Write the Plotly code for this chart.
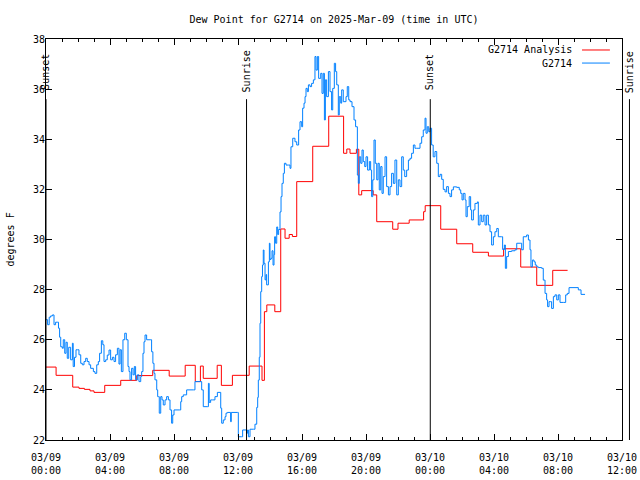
import pandas as pd
import plotly.graph_objects as go

START = pd.Timestamp("2025-03-09 00:00")
END = pd.Timestamp("2025-03-10 12:00")

# Analysis (hourly-ish steps): hours after 03/09 00:00 UTC, dew point F
analysis_hours = [0.0, 0.63, 1.67, 2.06, 2.4, 2.75, 3.0, 3.67, 4.67, 5.67, 6.67, 7.7, 8.7,
                  9.33, 9.65, 9.83, 10.7, 10.96, 11.65, 12.7, 13.5, 13.65, 13.8, 14.3, 14.67,
                  14.94, 15.2, 15.4, 15.67, 16.67, 17.67, 18.6, 18.8, 19.0, 19.4, 19.55, 19.73,
                  20.45, 20.67, 21.67, 22.0, 22.7, 23.6, 23.7, 24.67, 25.67, 26.67, 27.65,
                  28.6, 29.67, 30.67, 31.67, 32.6]
analysis_vals = [24.91, 24.58, 24.11, 24.06, 24.02, 23.96, 23.9, 24.18, 24.38, 24.57, 24.78, 24.55, 24.98,
                 24.33, 24.95, 24.46, 24.98, 24.18, 24.58, 24.95, 24.38, 27.12, 27.39, 27.12, 30.42,
                 30.05, 30.2, 30.12, 32.31, 33.72, 34.92, 33.44, 33.61, 33.44, 33.6, 31.78, 31.95,
                 31.78, 30.71, 30.41, 30.65, 30.78, 31.11, 31.35, 30.41, 29.83, 29.49, 29.34,
                 29.63, 28.9, 28.17, 28.77, 28.77]

# Station observations
obs_hours = [0.0, 0.1, 0.2, 0.29, 0.4, 0.5, 0.6, 0.71, 0.78, 0.85, 0.92, 1.02, 1.08, 1.17, 1.25,
             1.33, 1.42, 1.54, 1.65, 1.7, 1.78, 1.875, 1.96, 2.06, 2.17, 2.27, 2.375, 2.48, 2.58,
             2.69, 2.79, 2.96, 3.06, 3.17, 3.27, 3.35, 3.46, 3.55, 3.625, 3.73, 3.83, 3.94, 4.04,
             4.15, 4.25, 4.35, 4.46, 4.56, 4.63, 4.71, 4.81, 4.92, 5.02, 5.125, 5.19, 5.25, 5.35,
             5.44, 5.52, 5.6, 5.71, 5.81, 5.92, 5.98, 6.06, 6.125, 6.19, 6.29, 6.44, 6.55, 6.6,
             6.68, 6.75, 6.81, 6.92, 6.98, 7.04, 7.08, 7.17, 7.25, 7.33, 7.44, 7.54, 7.65, 7.75,
             7.85, 7.92, 8.0, 8.33, 8.42, 8.48, 8.58, 8.79, 9.21, 9.31, 9.625, 9.73, 9.83, 10.08,
             10.15, 10.2, 10.29, 10.42, 10.56, 10.71, 10.875, 10.92, 10.98, 11.08, 11.19, 11.25,
             11.33, 11.5, 11.54, 11.58, 11.96, 12.02, 12.23, 12.29, 12.44, 12.54, 12.6, 12.65,
             12.75, 12.96, 13.06, 13.17, 13.23, 13.27, 13.33, 13.375, 13.42, 13.48, 13.53, 13.58,
             13.625, 13.69, 13.75, 13.79, 13.9, 13.96, 14.0, 14.06, 14.125, 14.19, 14.25, 14.29,
             14.35, 14.42, 14.48, 14.54, 14.625, 14.69, 14.75, 14.83, 14.9, 15.0, 15.15, 15.25,
             15.31, 15.42, 15.56, 15.67, 15.79, 15.875, 15.98, 16.04, 16.125, 16.19, 16.25, 16.33,
             16.4, 16.5, 16.6, 16.71, 16.81, 16.875, 16.96, 17.04, 17.17, 17.25, 17.33, 17.4,
             17.46, 17.54, 17.65, 17.75, 17.85, 17.92, 18.02, 18.1, 18.17, 18.27, 18.33, 18.42,
             18.48, 18.58, 18.75, 18.83, 18.92, 19.0, 19.125, 19.25, 19.35, 19.46, 19.52, 19.58,
             19.67, 19.75, 19.83, 19.92, 20.0, 20.1, 20.21, 20.29, 20.35, 20.42, 20.5, 20.58,
             20.67, 20.75, 20.83, 20.92, 21.0, 21.08, 21.19, 21.29, 21.4, 21.5, 21.6, 21.71,
             21.81, 21.92, 22.02, 22.125, 22.23, 22.33, 22.42, 22.54, 22.65, 22.75, 22.85, 22.96,
             23.06, 23.17, 23.375, 23.48, 23.58, 23.69, 23.75, 23.83, 23.92, 24.0, 24.1, 24.2,
             24.31, 24.42, 24.52, 24.625, 24.73, 24.83, 24.94, 25.04, 25.15, 25.25, 25.35, 25.46,
             25.67, 25.83, 25.92, 26.0, 26.08, 26.19, 26.25, 26.33, 26.45, 26.54, 26.6, 26.71,
             26.81, 26.96, 27.02, 27.125, 27.23, 27.33, 27.44, 27.54, 27.65, 27.75, 27.85, 27.96,
             28.06, 28.17, 28.27, 28.48, 28.54, 28.65, 28.71, 28.79, 28.9, 29.1, 29.31, 29.42,
             29.67, 29.73, 29.83, 30.04, 30.15, 30.25, 30.31, 30.4, 30.5, 30.58, 30.67, 30.77,
             30.98, 31.08, 31.19, 31.29, 31.35, 31.44, 31.52, 31.6, 31.71, 31.81, 31.92, 32.02,
             32.125, 32.33, 32.48, 32.58, 32.69, 33.125, 33.27, 33.44, 33.69]
obs_vals = [26.8, 26.6, 26.9, 26.95, 26.99, 26.6, 26.7, 26.7, 26.46, 26.1, 25.72, 25.66, 26.0, 25.46, 25.9,
            25.26, 25.7, 25.2, 25.86, 24.93, 25.3, 25.6, 25.6, 25.4, 25.06, 25.0, 25.13, 25.26, 25.13,
            25.0, 24.86, 24.73, 24.66, 25.0, 25.13, 25.46, 25.96, 25.8, 25.13, 25.2, 25.39, 25.59, 25.2,
            25.3, 25.13, 25.4, 25.66, 25.03, 25.6, 24.73, 26.0, 26.26, 26.0, 24.93, 24.73, 24.4, 24.86,
            24.6, 24.93, 24.4, 24.6, 24.33, 24.53, 24.73, 25.46, 25.92, 26.19, 26.0, 26.0, 26.0, 25.52,
            25.06, 24.66, 24.4, 24.0, 23.73, 23.73, 23.07, 23.73, 23.6, 23.4, 23.6, 23.73, 23.6, 23.2,
            22.67, 23.0, 23.2, 23.2, 23.53, 23.73, 23.8, 24.0, 24.0, 24.33, 24.33, 24.0, 23.33, 23.33,
            24.26, 23.5, 23.6, 23.6, 23.73, 23.9, 23.9, 23.27, 22.67, 22.8, 22.93, 23.07,
            23.1, 23.1, 22.73, 23.1, 23.1, 22.13, 22.13, 22.4, 22.4, 22.27, 22.4, 22.13,
            22.43, 22.43, 22.63, 23.3, 23.7, 24.39, 25.3, 26.66, 27.92, 28.52, 28.98, 29.58,
            29.05, 28.39, 28.6, 28.19, 29.11, 29.85, 29.2, 29.25, 29.55, 28.98, 29.4, 30.11,
            29.85, 30.5, 30.2, 30.4, 31.1, 31.71, 32.24, 32.64, 33.04, 32.97, 32.97, 32.84,
            33.7, 34.04, 33.9, 33.77, 34.37, 34.7, 34.5, 35.24, 35.44, 35.7, 36.03, 35.9,
            36.17, 36.1, 36.23, 36.37, 37.3, 36.76, 37.3, 36.43, 36.63, 35.83, 36.63, 34.77,
            36.37, 35.7, 36.7, 35.9, 35.17, 36.03, 37.03, 36.7, 36.17, 34.97, 35.7, 35.44,
            35.97, 35.5, 35.7, 36.1, 35.57, 35.5, 35.3, 34.77, 34.5, 32.57, 32.24, 33.3,
            33.04, 33.57, 33.11, 32.91, 33.3, 32.77, 33.11, 32.77, 31.71, 32.38, 33.97, 33.04,
            32.38, 33.04, 31.98, 32.91, 31.84, 32.51, 33.3, 32.11, 31.78, 32.11, 32.64, 32.24,
            33.17, 31.78, 32.38, 32.11, 33.3, 32.77, 32.51, 32.77, 33.17, 33.24, 33.44, 33.77,
            33.64, 33.64, 33.84, 34.1, 34.37, 34.84, 34.24, 34.5, 34.3, 34.44, 33.77, 33.3,
            33.51, 33.04, 32.51, 32.6, 32.4, 32.0, 31.9, 32.11, 31.84, 31.71, 31.98, 32.1,
            32.08, 31.98, 31.84, 31.58, 31.84, 31.58, 30.91, 31.31, 31.71, 31.18, 30.78, 31.18,
            31.44, 31.5, 30.58, 30.97, 30.71, 30.97, 30.58, 30.97, 30.58, 30.31, 29.78, 30.11,
            30.31, 30.44, 30.11, 30.11, 29.6, 29.78, 28.85, 29.32, 29.52, 29.55, 29.59, 29.85,
            29.85, 29.59, 30.11, 30.18, 29.98, 29.59, 28.91, 29.18, 29.11, 28.98, 28.91, 28.88,
            28.85, 28.38, 27.85, 27.59, 27.32, 27.52, 27.52, 27.25, 27.72, 27.79, 27.59, 27.79,
            27.49, 27.49, 27.79, 27.85, 28.08, 28.08, 27.99, 27.81, 27.81]

# Sun events (UTC)
event_labels = ["Sunset", "Sunrise", "Sunset", "Sunrise"]
event_times = ["2025-03-09 00:00", "2025-03-09 12:32", "2025-03-10 00:01", "2025-03-10 12:28"]

x_tickvals = pd.date_range(START, END, freq="4h")
x_ticktext = [f"{t:%m/%d}<br>{t:%H:%M}" for t in x_tickvals]

FONT = "DejaVu Sans Mono"
RED = "#ff0000"
BLUE = "#0080ff"

t_an = START + pd.to_timedelta(analysis_hours, unit="h")
t_obs = START + pd.to_timedelta(obs_hours, unit="h")

fig = go.Figure()
fig.add_trace(go.Scatter(x=t_an, y=analysis_vals, mode="lines", line=dict(color=RED, width=1, shape="hv"),
                         name="G2714 Analysis", showlegend=False))
fig.add_trace(go.Scatter(x=t_obs, y=obs_vals, mode="lines", line=dict(color=BLUE, width=1, shape="hv"),
                         name="G2714", showlegend=False))

span = (END - START).total_seconds()
shapes = []
annotations = []
for lab, t in zip(event_labels, event_times):
    fx = (pd.Timestamp(t) - START).total_seconds() / span
    shapes.append(dict(type="line", xref="paper", yref="paper", x0=fx, x1=fx, y0=0, y1=0.85,
                       line=dict(color="black", width=1)))
    annotations.append(dict(text=lab, xref="paper", yref="paper", x=fx, y=0.918, textangle=-90,
                            showarrow=False, xanchor="center", yanchor="middle",
                            font=dict(family=FONT, size=10, color="black")))

# custom legend (sample line to the right of the label)
legend_items = [("G2714 Analysis", RED, 0.9726), ("G2714", BLUE, 0.940)]
for name, col, yy in legend_items:
    annotations.append(dict(text=name, xref="paper", yref="paper", x=0.9167, y=yy, xanchor="right",
                            yanchor="middle", showarrow=False, font=dict(family=FONT, size=10, color="black")))
    shapes.append(dict(type="line", xref="paper", yref="paper", x0=0.9306, x1=0.979, y0=yy, y1=yy,
                       line=dict(color=col, width=1)))

annotations.append(dict(text="degrees F", xref="paper", yref="paper", x=-0.0625, y=0.5, textangle=-90,
                        showarrow=False, xanchor="center", yanchor="middle",
                        font=dict(family=FONT, size=10, color="black")))

fig.update_layout(
    width=640, height=480,
    margin=dict(l=46, r=18, t=39, b=40, autoexpand=False),
    paper_bgcolor="white", plot_bgcolor="white",
    font=dict(family=FONT, size=10, color="black"),
    title=dict(text="Dew Point for G2714 on 2025-Mar-09 (time in UTC)", x=0.5, xref="paper",
               y=1 - 19 / 480, yref="container", xanchor="center", yanchor="middle",
               font=dict(family=FONT, size=10, color="black")),
    shapes=shapes, annotations=annotations, showlegend=False,
)
fig.update_xaxes(range=[START, END], tickmode="array", tickvals=x_tickvals, ticktext=x_ticktext,
                 ticks="inside", ticklen=6, tickcolor="black", showline=True, linecolor="black",
                 linewidth=1, mirror="ticks", showgrid=False, zeroline=False, automargin=False,
                 ticklabelstandoff=8,
                 minor=dict(dtick=3600000, tick0=START, ticks="inside", ticklen=3, tickcolor="black",
                            showgrid=False),
                 tickfont=dict(family=FONT, size=10, color="black"))
fig.update_yaxes(range=[22, 38], dtick=2, tick0=22, ticks="inside", ticklen=6, tickcolor="black",
                 showline=True, linecolor="black", linewidth=1, mirror="ticks", showgrid=False,
                 zeroline=False, automargin=False, ticklabelstandoff=-2,
                 tickfont=dict(family=FONT, size=10, color="black"))

fig.write_html("out.html")
